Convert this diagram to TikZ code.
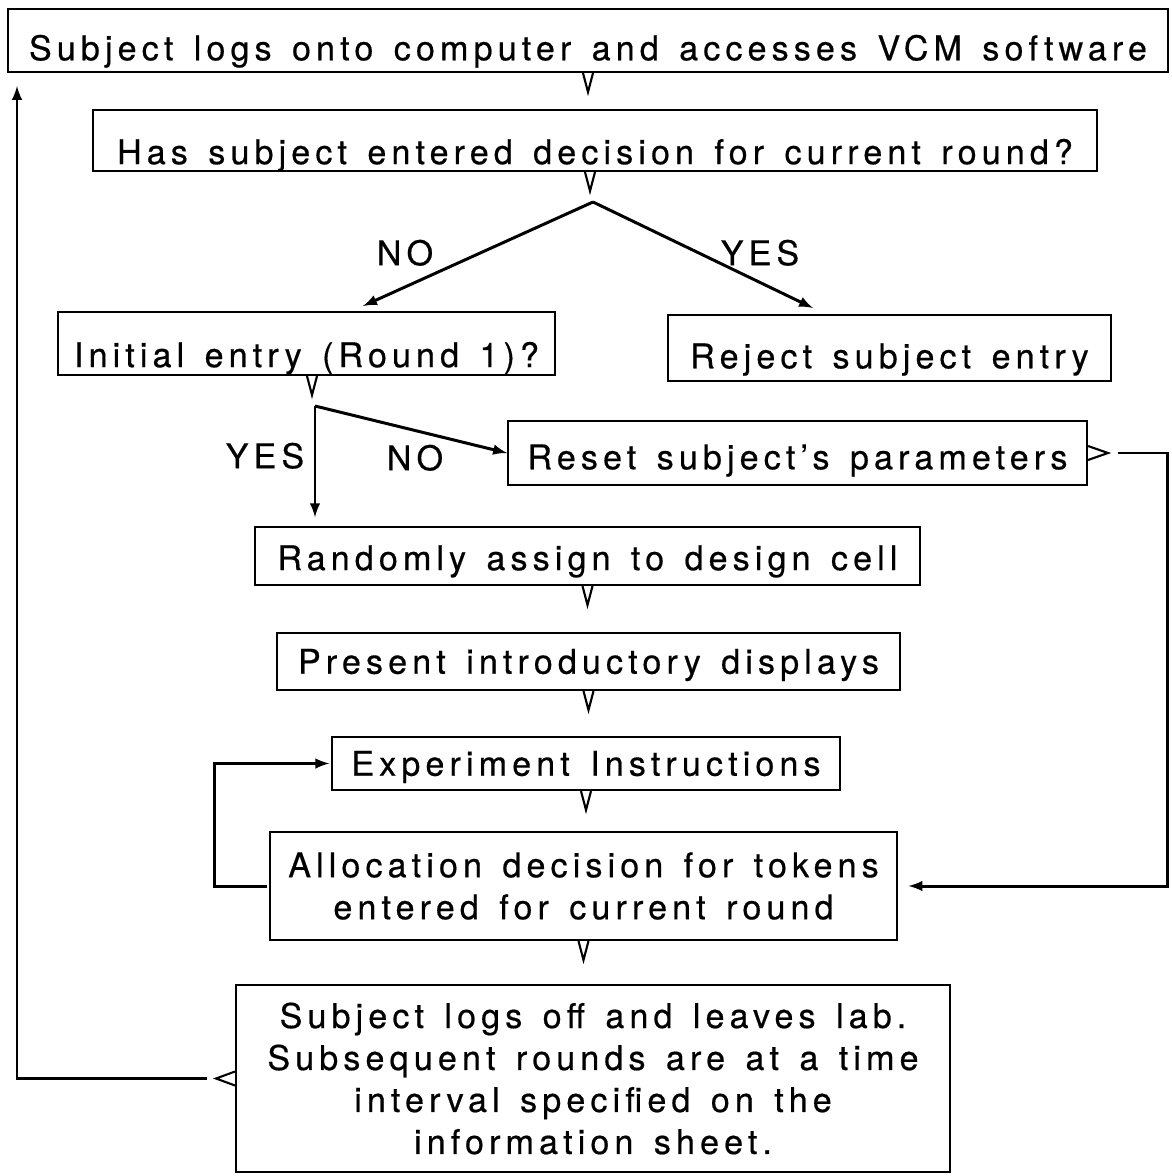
\documentclass[tikz,border=0pt]{standalone}
\usepackage{fontspec}
\setmainfont{TeX Gyre Heros}[LetterSpace=15, WordSpace=1.4, FakeBold=0.5]
\usetikzlibrary{arrows}

\newcommand{\lowered}[2]{\raisebox{-#1}[\height][\depth]{#2}}
\newcommand{\vtail}[1]{\draw[boxline] (#1) ++(-5,0) -- ++(5,19) -- ++(5,-19);}

\tikzset{
  boxline/.style={line width=1.2pt},
  box/.style={draw, boxline, inner sep=0pt, align=center},
  oneline/.style={box, text height=13.9pt, text depth=0pt},
  word/.style={inner sep=0pt, text height=13.9pt, text depth=0pt},
  link/.style={line width=1.7pt, ->, >=latex},
}

\begin{document}
\begin{tikzpicture}[x=0.02cm, y=-0.02cm, font=\fontsize{19.4}{23.9}\selectfont]
\useasboundingbox (0,0) rectangle (1172,1176);

% boxes
\node[oneline, minimum width=23.2cm, minimum height=1.26cm] (login) at (588,40.5)
    {\lowered{4.3pt}{Subject logs onto computer and accesses VCM software}};
\node[oneline, minimum width=20.08cm, minimum height=1.22cm] (check) at (595,140.5)
    {\lowered{6.5pt}{Has subject entered decision for current round?}};
\node[oneline, minimum width=9.94cm, minimum height=1.26cm] (initial) at (306.5,343.5)
    {\lowered{6.5pt}{Initial entry (Round 1)?}};
\node[oneline, minimum width=8.86cm, minimum height=1.32cm] (reject) at (889.5,348)
    {\lowered{4.6pt}{Reject subject entry}};
\node[oneline, minimum width=11.58cm, minimum height=1.28cm] (reset) at (797.5,453)
    {\lowered{2.3pt}{Reset subject's parameters}};
\node[oneline, minimum width=13.3cm, minimum height=1.16cm] (assign) at (587.5,556)
    {\lowered{1.1pt}{Randomly assign to design cell}};
\node[oneline, minimum width=12.46cm, minimum height=1.14cm] (intro) at (588.5,661.5)
    {Present introductory displays};
\node[oneline, minimum width=10.16cm, minimum height=1.06cm] (instr) at (586,763.5)
    {Experiment Instructions};
\node[box, minimum width=12.54cm, minimum height=2.16cm] (alloc) at (583.5,886)
    {Allocation decision for tokens\\entered for current round};
\node[box, minimum width=14.28cm, minimum height=3.74cm] (logoff) at (593,1078.5)
    {Subject logs off and leaves lab.\\Subsequent rounds are at a time\\interval specified on the\\information sheet.};

% tails
\vtail{login.south}
\vtail{[xshift=-0.1cm]check.south}
\vtail{[xshift=0.11cm]initial.south}
\vtail{assign.south}
\vtail{intro.south}
\vtail{instr.south}
\vtail{alloc.south}
\draw[boxline] (reset.east) ++(0,-7) -- ++(20,7) -- ++(-20,7);
\draw[boxline] (logoff.west) ++(0,-7) -- ++(-19,7) -- ++(19,7);

% first question
\coordinate (fork1) at (593,202);
\coordinate (noend) at (363,306);
\coordinate (yesend) at (813,308);
\draw[link] (fork1) -- (noend);
\draw[link] (fork1) -- (yesend);
\node[word] (no1) at (405,253) {NO};
\node[word] (yes1) at (760,253) {YES};

% second question
\coordinate (fork2) at (315,406);
\draw[link, shorten >=5pt] (fork2) -- (fork2 |- assign.north);
\draw[link] (fork2) -- (reset.west);
\node[word] (yes2) at (265,456) {YES};
\node[word] (no2) at (415,458) {NO};

% loops
\draw[link, shorten >=6pt] ([xshift=0.6cm]reset.east) -- ++(49,0) |- (alloc.east);
\draw[link, shorten >=1pt] ([xshift=-1pt]alloc.west) -- ++(-53,0) |- (instr.west);
\coordinate (backtop) at (17,86);
\draw[link] ([xshift=-0.56cm]logoff.west) -| (backtop);
\end{tikzpicture}
\end{document}
